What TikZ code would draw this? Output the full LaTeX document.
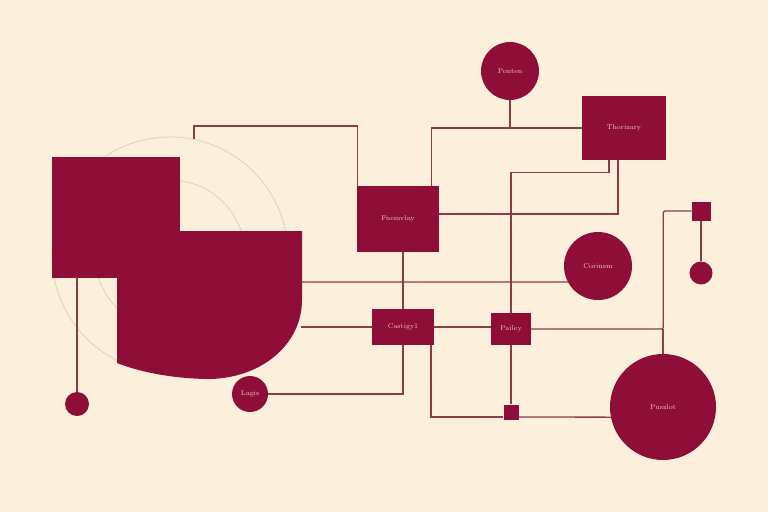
\documentclass[tikz,border=0pt]{standalone}
\usetikzlibrary{calc}
\definecolor{bg}{HTML}{FCF0DC}
\definecolor{crim}{HTML}{8E0E38}
\definecolor{wirec}{HTML}{8C3B49}
\definecolor{deco}{HTML}{E2D2BC}
\definecolor{lbl}{HTML}{F3C6CF}
\begin{document}
\begin{tikzpicture}[x=1pt,y=-1pt,
  box/.style={rectangle, fill=crim, draw=none, inner sep=0pt, text=lbl, font=\fontsize{7}{8}\selectfont},
  dotc/.style={circle, fill=crim, draw=none, inner sep=0pt, text=lbl, font=\fontsize{7}{8}\selectfont},
  wire/.style={draw=wirec, line width=1.3pt},
  decoline/.style={draw=deco, line width=0.9pt}]
\fill[bg] (0,0) rectangle (768,512);
\useasboundingbox (0,0) rectangle (768,512);
% decorative circles
\draw[decoline] (170,255) circle[radius=118];
\draw[decoline] (170,255) circle[radius=75];
% big composite shape
\fill[crim] (52,157) rectangle (180,278);
\fill[crim] (117,231) -- (302,231) -- (302,300) .. controls (302,345) and (260,380) .. (205,379) .. controls (170,378) and (140,372) .. (117,363) -- cycle;
\coordinate (arcTop) at (194,139);
\coordinate (bsR1) at (301,327);
\coordinate (bsR2) at (301,282);
\coordinate (bsB) at (77,277);
% nodes
\node[dotc, minimum size=58pt] (ponten) at (510,71) {Ponten};
\node[box, minimum width=84pt, minimum height=64pt] (thor) at (624,128) {Thorizary};
\node[box, minimum width=82pt, minimum height=66pt] (fnem) at (398,219) {Fnemvlay};
\node[dotc, minimum size=68pt] (corin) at (598,266) {Corinsm};
\node[box, minimum width=62pt, minimum height=36pt] (cast) at (403,327) {Castigy1};
\node[box, minimum width=40pt, minimum height=32pt] (pail) at (511,329) {Pailey};
\node[dotc, minimum size=36pt] (lagis) at (250,394) {Lagis};
\node[dotc, minimum size=106pt] (pusz) at (663,407) {Puszlot};
\node[box, minimum size=19pt] (sq1) at (701,211) {};
\node[dotc, minimum size=23pt] (dotR) at (701,273) {};
\node[box, minimum size=15pt] (sq2) at (511,412) {};
\node[dotc, minimum size=24pt] (dotL) at (77,404) {};
% wires
\draw[wire] (ponten.south) -- (510,128);
\draw[wire] ([xshift=-8pt]fnem.north east) |- (thor.west);
\draw[wire] ([xshift=-15pt]thor.south) -- ++(0,12) -| (pail.north);
\draw[wire] ([xshift=-6pt]thor.south) |- ([yshift=5pt]fnem.east);
\draw[wire] (arcTop) -- ++(0,-13) -| ([xshift=1pt]fnem.north west);
\draw[wire] (cast.north) -- (cast.north |- fnem.south);
\draw[wire] (bsR1) -- (cast.west);
\draw[wire] (cast.east) -- (cast.east -| pail.west);
\draw[wire, rounded corners=2pt] (pail.east) -| ([xshift=-28pt]sq1.west) -- (sq1.west);
\draw[wire] (pusz.north) -- (pusz.north |- pail.east);
\draw[wire] (sq1.south) -- (dotR.north);
\draw[wire] (pail.south) -- (sq2.north);
\draw[wire] ([xshift=28pt]cast.south) |- ([yshift=-5pt]sq2.west);
\draw[wire] ([yshift=-5pt]sq2.east) -- (pusz.191);
\draw[wire] (cast.south) |- (lagis.east);
\draw[wire] (bsR2) -- (corin.208);
\draw[wire] (bsB) -- (dotL.north);
\end{tikzpicture}
\end{document}
